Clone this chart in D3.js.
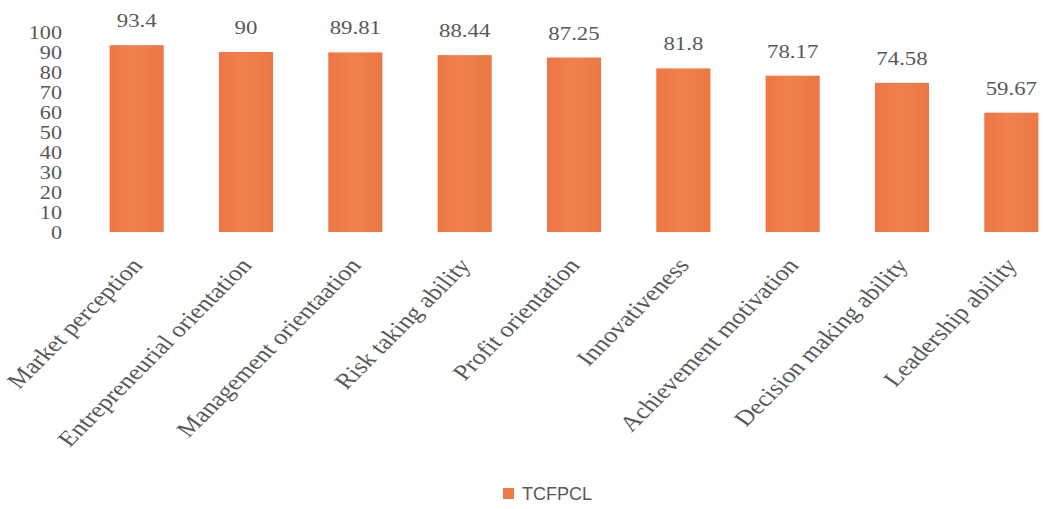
<!DOCTYPE html>
<html>
<head>
<meta charset="utf-8">
<script src="https://cdn.jsdelivr.net/npm/d3@7"></script>
<style>
  html, body { margin: 0; padding: 0; background: #fff; }
  svg { display: block; }
</style>
</head>
<body>
<svg id="chart" width="1045" height="509"></svg>
<script>
// Entrepreneurial attributes, TCFPCL scores
const categories = [
  "Market perception",
  "Entrepreneurial orientation",
  "Management orientaation",
  "Risk taking ability",
  "Profit orientation",
  "Innovativeness",
  "Achievement motivation",
  "Decision making ability",
  "Leadership ability"
];
const values = [93.4, 90, 89.81, 88.44, 87.25, 81.8, 78.17, 74.58, 59.67];
const valueLabels = ["93.4", "90", "89.81", "88.44", "87.25", "81.8", "78.17", "74.58", "59.67"];
const yTicks = [0, 10, 20, 30, 40, 50, 60, 70, 80, 90, 100];
const seriesName = "TCFPCL";

const svg = d3.select("#chart");
const textColor = "#585858";
const barColor = "#EE7B46";
const serif = "'Liberation Serif', 'Times New Roman', serif";
const SX = 1.2; // horizontal widening of the lettering

const x = d3.scaleBand()
  .domain(categories)
  .range([82, 1066])
  .paddingInner(0.505)
  .paddingOuter(0.2525);

const y = d3.scaleLinear()
  .domain([0, 100])
  .range([232, 32]);

// subtle shading across the bars
const defs = svg.append("defs");
const grad = defs.append("linearGradient")
  .attr("id", "barFill").attr("x1", 0).attr("x2", 1).attr("y1", 0).attr("y2", 0);
grad.append("stop").attr("offset", "0%").attr("stop-color", "#EF7645");
grad.append("stop").attr("offset", "45%").attr("stop-color", "#F0814F");
grad.append("stop").attr("offset", "100%").attr("stop-color", "#EA7842");

// y axis (labels only)
const yAxis = svg.append("g")
  .attr("transform", "translate(62,0)")
  .call(d3.axisLeft(y).tickValues(yTicks).tickSize(0).tickPadding(0));
yAxis.select(".domain").remove();
yAxis.selectAll("text")
  .attr("x", 0)
  .attr("dy", "0.35em")
  .attr("transform", `scale(${SX},1)`)
  .style("font-family", serif)
  .style("font-size", "18.5px")
  .attr("fill", textColor);

// bars
svg.append("g").selectAll("rect")
  .data(values)
  .join("rect")
  .attr("x", (d, i) => x(categories[i]))
  .attr("y", d => y(d))
  .attr("width", x.bandwidth())
  .attr("height", d => y(0) - y(d))
  .attr("fill", "url(#barFill)");

// value labels above the bars
svg.append("g").selectAll("text")
  .data(values)
  .join("text")
  .attr("transform", (d, i) =>
    `translate(${x(categories[i]) + x.bandwidth() / 2},${y(d) - 18}) scale(${SX},1)`)
  .attr("text-anchor", "middle")
  .style("font-family", serif)
  .style("font-size", "19px")
  .attr("fill", textColor)
  .text((d, i) => valueLabels[i]);

// rotated category labels
svg.append("g").selectAll("text")
  .data(categories)
  .join("text")
  .attr("transform", d =>
    `translate(${x(d) + x.bandwidth() / 2 + 7},${266}) scale(${SX},1) rotate(-50)`)
  .attr("text-anchor", "end")
  .style("font-family", serif)
  .style("font-size", "22px")
  .attr("fill", textColor)
  .text(d => d);

// legend
const legend = svg.append("g").attr("transform", "translate(503,488)");
legend.append("rect")
  .attr("width", 11).attr("height", 11)
  .attr("fill", barColor);
legend.append("text")
  .attr("x", 19).attr("y", 5.5).attr("dy", "0.35em")
  .style("font-family", "'Liberation Sans', Arial, sans-serif")
  .style("font-size", "18px")
  .attr("fill", textColor)
  .text(seriesName);
</script>
</body>
</html>
